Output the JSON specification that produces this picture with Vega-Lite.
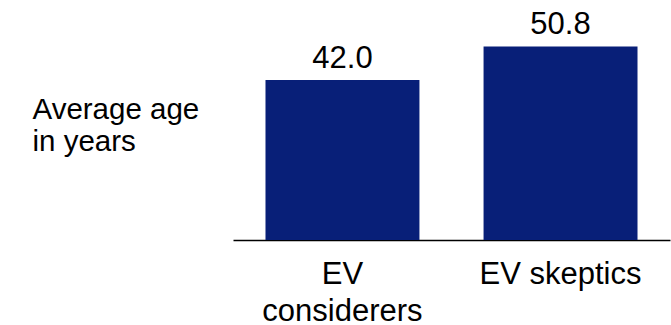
{
  "$schema": "https://vega.github.io/schema/vega-lite/v6.json",
  "width": 437,
  "height": 240,
  "autosize": "none",
  "padding": {"left": 233, "top": 0, "right": 1, "bottom": 85},
  "background": "white",
  "config": {
    "view": {"stroke": null},
    "font": "Liberation Sans"
  },
  "data": {
    "values": [
      {"group": "EV considerers", "age": 42.0},
      {"group": "EV skeptics", "age": 50.8}
    ]
  },
  "encoding": {
    "x": {
      "field": "group",
      "type": "nominal",
      "sort": null,
      "scale": {"paddingInner": 0.294, "paddingOuter": 0.149, "align": 0.5},
      "axis": {
        "title": null,
        "labelAngle": 0,
        "labelExpr": "datum.value == 'EV considerers' ? ['EV', 'considerers'] : datum.value",
        "labelFont": "Liberation Sans",
        "labelFontSize": 31,
        "labelColor": "#000000",
        "labelBaseline": "alphabetic",
        "labelLineHeight": 37,
        "labelPadding": 43,
        "labelAlign": "center",
        "ticks": false,
        "tickSize": 0,
        "domain": true,
        "domainColor": "#000000",
        "domainWidth": 1.5,
        "grid": false
      }
    },
    "y": {
      "field": "age",
      "type": "quantitative",
      "scale": {"domain": [0, 63], "nice": false, "zero": true},
      "axis": {
        "title": ["Average age", "in years"],
        "titleAngle": 0,
        "titleAlign": "left",
        "titleBaseline": "alphabetic",
        "titleX": -201,
        "titleY": 118,
        "titleLineHeight": 32,
        "titleFont": "Liberation Sans",
        "titleFontSize": 29.5,
        "titleFontWeight": "normal",
        "titleColor": "#000000",
        "labels": false,
        "ticks": false,
        "domain": false,
        "grid": false
      }
    }
  },
  "layer": [
    {
      "mark": {"type": "bar", "color": "#081f78"}
    },
    {
      "mark": {
        "type": "text",
        "baseline": "alphabetic",
        "align": "center",
        "dy": -12.5,
        "font": "Liberation Sans",
        "fontSize": 31,
        "color": "#000000"
      },
      "encoding": {
        "text": {"field": "age", "type": "quantitative", "format": ".1f"}
      }
    }
  ]
}
